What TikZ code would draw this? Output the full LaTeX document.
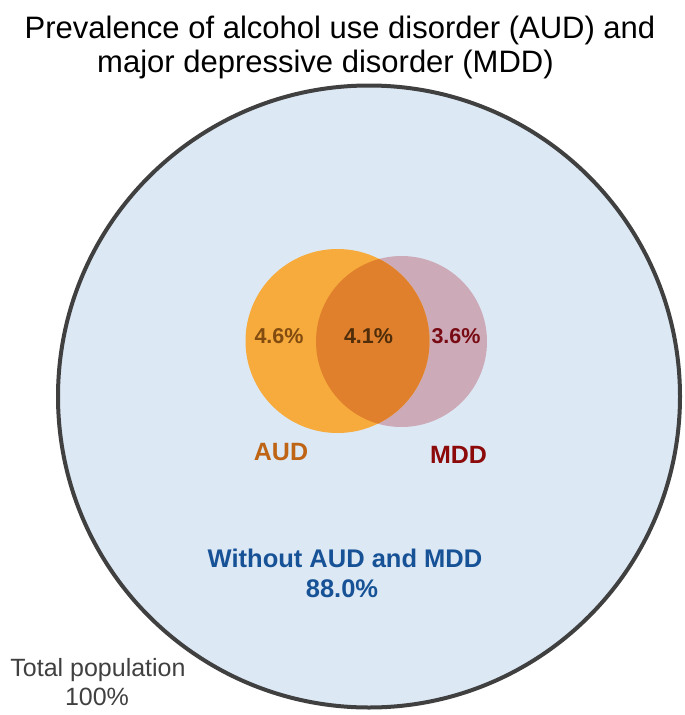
\documentclass[tikz,border=0pt]{standalone}
\usepackage{fontspec}
\setmainfont{Liberation Sans}
\definecolor{popfill}{RGB}{220,233,245}
\definecolor{popline}{RGB}{64,64,64}
\definecolor{audfill}{RGB}{246,171,60}
\definecolor{mddfill}{RGB}{205,170,183}
\definecolor{bothfill}{RGB}{224,128,44}
\definecolor{audtext}{RGB}{190,100,20}
\definecolor{mddtext}{RGB}{140,10,10}
\definecolor{audpct}{RGB}{130,75,15}
\definecolor{bothpct}{RGB}{80,45,10}
\definecolor{mddpct}{RGB}{120,10,20}
\definecolor{bluetext}{RGB}{23,82,150}
\definecolor{graytext}{RGB}{64,64,64}
\tikzset{
  titletext/.style={anchor=base, inner sep=0pt, font=\fontsize{31}{35}\selectfont, text=black},
  pcttext/.style={anchor=base, inner sep=0pt, font=\fontsize{21.5}{24}\selectfont\bfseries},
  setlabel/.style={anchor=base, inner sep=0pt, font=\fontsize{25}{28}\selectfont\bfseries},
  restlabel/.style={anchor=base, inner sep=0pt, font=\fontsize{25.5}{28}\selectfont\bfseries, text=bluetext},
  totallabel/.style={anchor=base, inner sep=0pt, font=\fontsize{25}{28}\selectfont, text=graytext}
}
\begin{document}
\begin{tikzpicture}[x=1pt,y=-1pt]
\useasboundingbox (0,0) rectangle (685,715);
% total population
\fill[popfill] (369,396.5) circle[radius=311];
\draw[popline, line width=4pt] (369,396.5) circle[radius=311];
% Venn circles
\coordinate (audc) at (337.5,341);
\coordinate (mddc) at (401.5,341.5);
\fill[mddfill] (mddc) circle[radius=85.5];
\fill[audfill] (audc) circle[radius=92];
\begin{scope}
  \clip (audc) circle[radius=92];
  \fill[bothfill] (mddc) circle[radius=85.5];
\end{scope}
% titles
\node[titletext] (t1) at (340,38) {Prevalence of alcohol use disorder (AUD) and};
\node[titletext] (t2) at (325.5,72) {major depressive disorder (MDD)};
% percentages
\node[pcttext, text=audpct] (p1) at (279,343) {4.6\%};
\node[pcttext, text=bothpct] (p2) at (368.5,343) {4.1\%};
\node[pcttext, text=mddpct] (p3) at (456,343) {3.6\%};
% set labels
\node[setlabel, text=audtext] (aud) at (281,460) {AUD};
\node[setlabel, text=mddtext] (mdd) at (458.5,463) {MDD};
% rest
\node[restlabel] (w1) at (345,567) {Without AUD and MDD};
\node[restlabel] (w2) at (342,597) {88.0\%};
% total
\node[totallabel] (tp1) at (98,676) {Total population};
\node[totallabel] (tp2) at (97,705) {100\%};
\end{tikzpicture}
\end{document}
